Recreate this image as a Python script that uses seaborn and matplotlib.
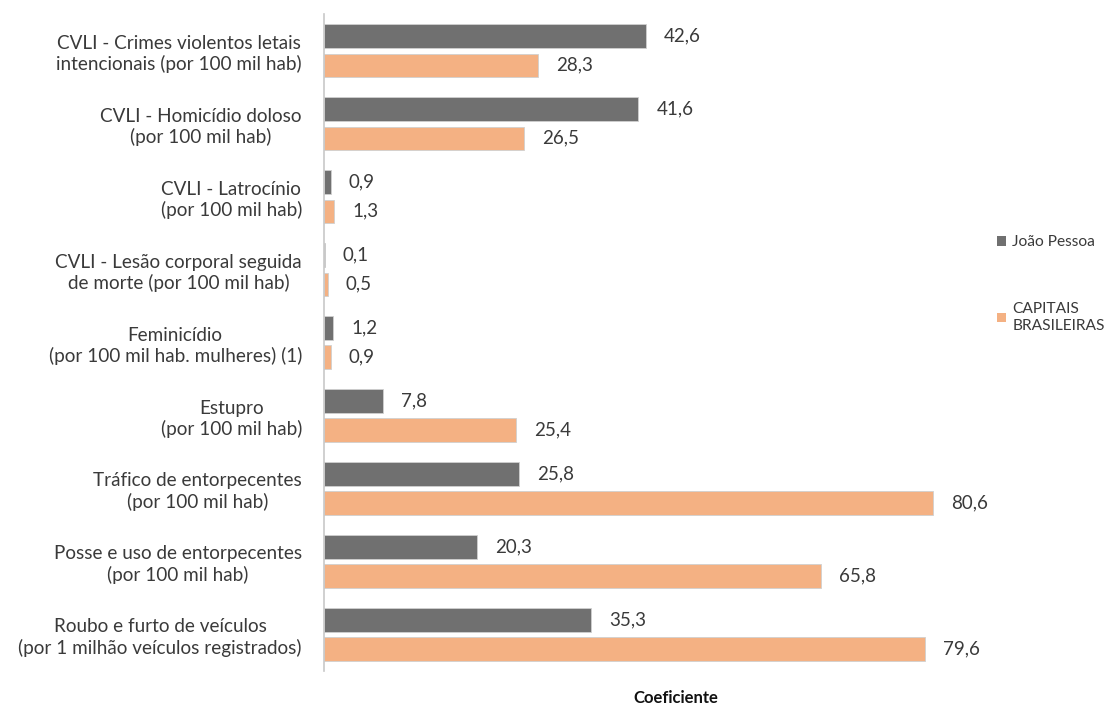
import matplotlib
matplotlib.use("Agg")
import matplotlib.pyplot as plt
import seaborn as sns
import pandas as pd
from matplotlib.patches import Patch

categories = [
    "CVLI - Crimes violentos letais\nintencionais (por 100 mil hab)",
    "CVLI - Homicídio doloso\n(por 100 mil hab)",
    "CVLI - Latrocínio\n(por 100 mil hab)",
    "CVLI - Lesão corporal seguida\nde morte (por 100 mil hab)",
    "Feminicídio\n(por 100 mil hab. mulheres) (1)",
    "Estupro\n(por 100 mil hab)",
    "Tráfico de entorpecentes\n(por 100 mil hab)",
    "Posse e uso de entorpecentes\n(por 100 mil hab)",
    "Roubo e furto de veículos\n(por 1 milhão veículos registrados)",
]
series_names = ["João Pessoa", "CAPITAIS\nBRASILEIRAS"]
joao_pessoa = [42.6, 41.6, 0.9, 0.1, 1.2, 7.8, 25.8, 20.3, 35.3]
capitais = [28.3, 26.5, 1.3, 0.5, 0.9, 25.4, 80.6, 65.8, 79.6]

df = pd.DataFrame({
    "categoria": categories * 2,
    "serie": [series_names[0]] * len(categories) + [series_names[1]] * len(categories),
    "valor": joao_pessoa + capitais,
})

colors = ["#707070", "#F4B183"]
text_color = "#3a3a3a"

sns.set_theme(style="white")
plt.rcParams["font.family"] = ["Lato", "DejaVu Sans"]

fig = plt.figure(figsize=(11.1, 7.1), dpi=100)
ax = fig.add_axes([0.292, 0.055, 0.634, 0.925])

sns.barplot(
    data=df, y="categoria", x="valor", hue="serie", orient="h",
    palette=colors, saturation=1, width=0.8, gap=0.2, ax=ax, legend=False,
    edgecolor="#d0d0d0", linewidth=0.6,
)

for container, vals in zip(ax.containers, [joao_pessoa, capitais]):
    ax.bar_label(container, labels=[f"{v:.1f}".replace(".", ",") for v in vals],
                 padding=13, fontsize=13.5, color=text_color)

ax.set_xlim(0, 93.2)
ax.set_ylim(len(categories) - 0.5, -0.5)

for side in ["top", "right", "bottom"]:
    ax.spines[side].set_visible(False)
ax.spines["left"].set_color("#c8c8c8")
ax.spines["left"].set_linewidth(1.2)

ax.set_xticks([])
ax.set_xlabel("Coeficiente", fontsize=12, fontweight="bold", color="#111111", labelpad=14)
ax.set_ylabel("")

ax.set_yticks(range(len(categories)))
ax.set_yticks([i - 0.5 for i in range(len(categories) + 1)], minor=True)
ax.tick_params(axis="y", which="major", length=0, pad=16, labelsize=13.6, labelcolor=text_color)
ax.tick_params(axis="y", which="minor", length=9, direction="inout", color="#c8c8c8", width=1.2)
for lbl in ax.get_yticklabels():
    lbl.set_multialignment("center")

handles = [Patch(facecolor=c, edgecolor="none") for c in colors]
fig.legend(handles, series_names, loc="center left", bbox_to_anchor=(0.898, 0.6),
           frameon=False, fontsize=11.2, labelcolor=text_color,
           handlelength=0.6, handleheight=0.6, handletextpad=0.4, labelspacing=3.4,
           borderaxespad=0, borderpad=0)

fig.savefig("out.png", dpi=100)
